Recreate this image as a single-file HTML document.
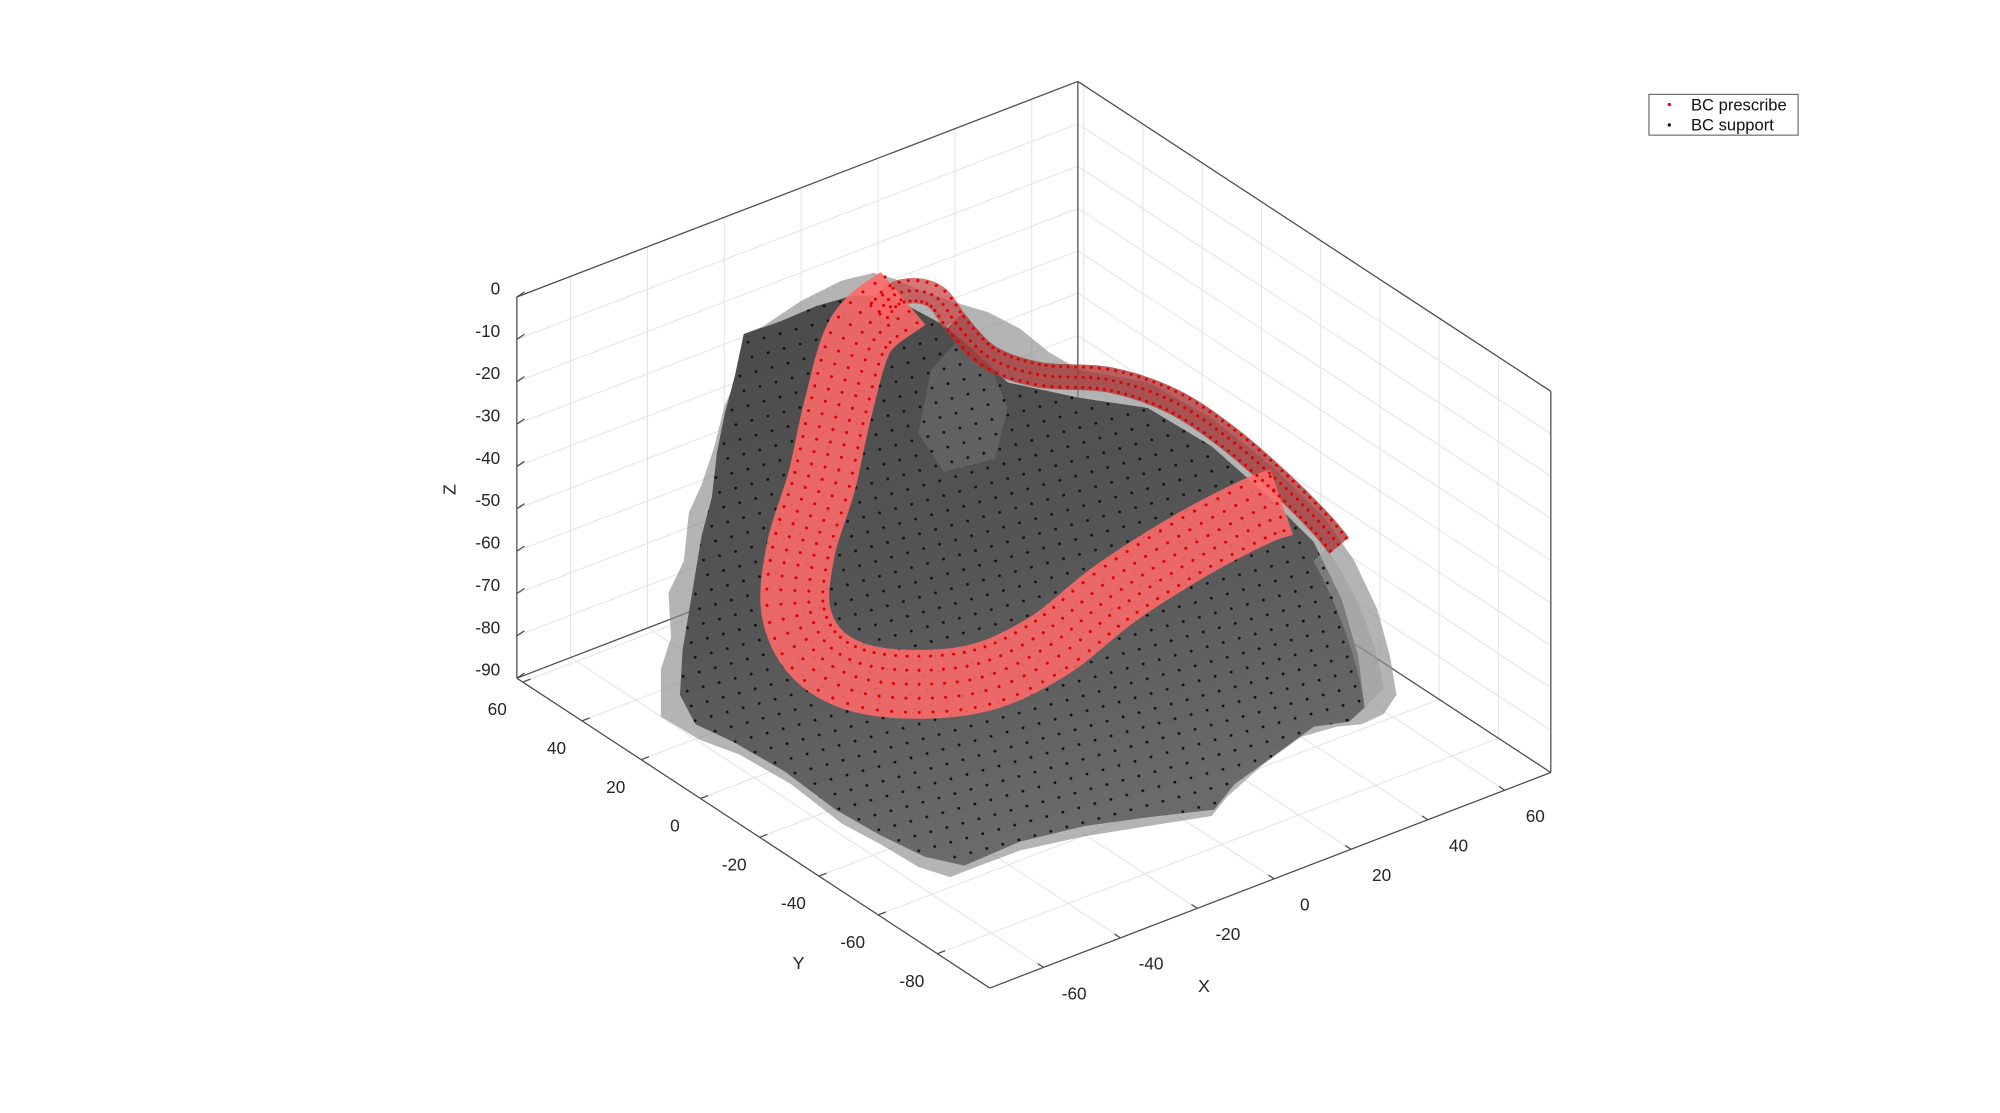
<!DOCTYPE html>
<html><head><meta charset="utf-8">
<style>
html,body{margin:0;padding:0;background:#fff;}
svg{display:block;font-family:"Liberation Sans","DejaVu Sans",sans-serif;}
</style></head>
<body>
<svg id="chart" width="2000" height="1113" viewBox="0 0 1568 873" xmlns="http://www.w3.org/2000/svg">
<defs>
<pattern id="dots" width="13" height="12" patternUnits="userSpaceOnUse" patternTransform="rotate(-15)">
<circle cx="3" cy="3" r="1.1" fill="#111"/>
</pattern>
<linearGradient id="surfGrad" x1="0" y1="0" x2="0.3" y2="1">
<stop offset="0" stop-color="#4a4a4a"/><stop offset="0.55" stop-color="#555"/><stop offset="1" stop-color="#6a6a6a"/>
</linearGradient>
<clipPath id="innerClip"><path id="innerClipPath" d=""/></clipPath>
</defs>
<g id="grid"></g>
<g id="box"></g>
<g id="surface"></g>
<g id="ticks"></g>
<text x="0" y="0" transform="translate(357,384) rotate(-90)" text-anchor="middle" font-size="14" fill="#262626">Z</text>
<text x="626" y="760" text-anchor="middle" font-size="14" fill="#262626">Y</text>
<text x="944" y="778" text-anchor="middle" font-size="14" fill="#262626">X</text>
<g>
<rect x="1293" y="74" width="117" height="32" fill="#fff" stroke="#555" stroke-width="0.8"/>
<circle cx="1309" cy="82" r="1.3" fill="#e00"/>
<text x="1326" y="86.5" font-size="13" fill="#111">BC prescribe</text>
<circle cx="1309" cy="98" r="1.3" fill="#111"/>
<text x="1326" y="102.5" font-size="13" fill="#111">BC support</text>
</g>
</svg>
<script>
const xTicks=[-60,-40,-20,0,20,40,60];
const yTicks=[-80,-60,-40,-20,0,20,40,60];
const zTicks=[-90,-80,-70,-60,-50,-40,-30,-20,-10,0];
const xLim=[-74,72], yLim=[-97.7,62], zLim=[-90,0];
const outerOutline=[[583,262],[598,256],[628,236],[660,220],[685,214],[702,219],[722,228],[745,236],[775,245],[800,258],[822,276],[846,290],[900,300],[950,328],[1000,368],[1040,408],[1062,440],[1080,478],[1090,515],[1095,545],[1085,560],[1068,568],[1048,570],[1020,578],[990,600],[962,625],[950,640],[900,648],[850,656],[800,667],[760,682],[745,688],[720,680],[690,662],[660,646],[620,615],[580,592],[548,580],[518,562],[518,525],[526,500],[524,465],[536,440],[540,402],[550,380],[560,350],[568,318],[580,292]];
const innerOutline=[[583,262],[612,252],[640,240],[668,232],[690,232],[712,240],[740,255],[760,272],[790,300],[846,312],[900,320],[950,350],[995,390],[1030,425],[1052,470],[1065,515],[1070,555],[1058,566],[1030,570],[1000,592],[968,615],[952,635],[900,641],[850,648],[800,660],[756,679],[725,672],[690,655],[655,635],[615,605],[575,582],[545,568],[533,545],[535,510],[540,480],[545,450],[550,420],[558,390],[562,355],[568,325],[576,295]];
const bandFront=[[708,234],[675,262],[657,320],[644,378],[628,430],[624,480],[645,517],[690,535],[762,533],[820,508],[875,465],[935,427],[985,401],[1005,394]];
const bandTop=[[688,246],[700,232],[718,228],[735,234],[748,252]];
const bandBack=[[748,252],[775,280],[815,294],[870,298],[920,315],[965,345],[1005,380],[1035,410],[1050,428]];

const NS='http://www.w3.org/2000/svg';
function P(X,Y,Z){return [776+(X-xLim[0])*3.014-(Y-yLim[0])*2.323, 775-(X-xLim[0])*1.158-(Y-yLim[0])*1.522-(Z-zLim[0])*3.322];}
function mk(tag,attrs,parent){const e=document.createElementNS(NS,tag);for(const k in attrs)e.setAttribute(k,attrs[k]);parent.appendChild(e);return e;}
function line(a,b,col,w,parent,name){const e=mk('line',{x1:a[0],y1:a[1],x2:b[0],y2:b[1],stroke:col,'stroke-width':w},parent);

return e;}
const grid=document.getElementById('grid'),box=document.getElementById('box'),ticks=document.getElementById('ticks'),surf=document.getElementById('surface');
const gc='#e3e3e3';
xTicks.forEach(x=>{line(P(x,yLim[0],zLim[0]),P(x,yLim[1],zLim[0]),gc,0.8,grid,'x-grid-floor');line(P(x,yLim[1],zLim[0]),P(x,yLim[1],zLim[1]),gc,0.8,grid,'x-grid-wall');});
yTicks.forEach(y=>{line(P(xLim[0],y,zLim[0]),P(xLim[1],y,zLim[0]),gc,0.8,grid,'y-grid-floor');line(P(xLim[1],y,zLim[0]),P(xLim[1],y,zLim[1]),gc,0.8,grid,'y-grid-wall');});
zTicks.forEach(z=>{line(P(xLim[0],yLim[1],z),P(xLim[1],yLim[1],z),gc,0.8,grid,'z-grid-left-wall');line(P(xLim[1],yLim[1],z),P(xLim[1],yLim[0],z),gc,0.8,grid,'z-grid-right-wall');});
const bc='#4d4d4d';
const A=P(xLim[0],yLim[1],zLim[1]),B=P(xLim[1],yLim[1],zLim[1]),C=P(xLim[1],yLim[0],zLim[1]);
const A0=P(xLim[0],yLim[1],zLim[0]),B0=P(xLim[1],yLim[1],zLim[0]),C0=P(xLim[1],yLim[0],zLim[0]),F0=P(xLim[0],yLim[0],zLim[0]);
line(A,B,bc,1,box,'box-edge');line(B,C,bc,1,box,'box-edge');line(A,A0,bc,1,box,'z-axis-line');line(C,C0,bc,1,box,'box-edge');line(B,B0,bc,1,box,'box-edge');
line(A0,B0,bc,1,box,'box-edge');line(B0,C0,bc,1,box,'box-edge');line(A0,F0,bc,1,box,'y-axis-line');line(F0,C0,bc,1,box,'x-axis-line');
yTicks.forEach(y=>{const p=P(xLim[0],y,zLim[0]);line(p,[p[0]+6,p[1]-2.3],bc,1,ticks,'y-tick');
const t=mk('text',{x:p[0]-20,y:p[1]+26,'text-anchor':'middle','font-size':13.5,fill:'#262626'},ticks);t.textContent=y;

});
xTicks.forEach(x=>{const p=P(x,yLim[0],zLim[0]);line(p,[p[0]-4.6,p[1]-3],bc,1,ticks,'x-tick');
const t=mk('text',{x:p[0]+24,y:p[1]+25,'text-anchor':'middle','font-size':13.5,fill:'#262626'},ticks);t.textContent=x;

});
zTicks.forEach(z=>{const p=P(xLim[0],yLim[1],z);line(p,[p[0]+6,p[1]-4],bc,1,ticks,'z-tick');
const t=mk('text',{x:p[0]-13,y:p[1]-2,'text-anchor':'end','font-size':13.5,fill:'#262626'},ticks);t.textContent=z;

});
function poly(pts){return 'M'+pts.map(p=>p.join(',')).join('L')+'Z';}
function smooth(pts){let d='M'+pts[0].join(',');for(let i=0;i<pts.length-1;i++){const p0=pts[Math.max(0,i-1)],p1=pts[i],p2=pts[i+1],p3=pts[Math.min(pts.length-1,i+2)];
const c1=[p1[0]+(p2[0]-p0[0])/6,p1[1]+(p2[1]-p0[1])/6],c2=[p2[0]-(p3[0]-p1[0])/6,p2[1]-(p3[1]-p1[1])/6];
d+='C'+c1.join(',')+' '+c2.join(',')+' '+p2.join(',');}return d;}
const outer=mk('path',{d:poly(outerOutline),fill:'#8c8c8c','fill-opacity':0.65},surf);


const inner=mk('path',{d:poly(innerOutline),fill:'url(#surfGrad)'},surf);


const bump=mk('path',{d:'M730,290 L750,268 L772,275 L790,320 L780,360 L740,370 L720,340 Z',fill:'#7a7a7a','fill-opacity':0.4},surf);


const shell2=mk('path',{d:'M1040,430 Q1075,480 1085,540 L1070,555 Q1062,500 1030,440 Z',fill:'#999','fill-opacity':0.5},surf);


document.getElementById('innerClipPath').setAttribute('d',poly(innerOutline));
const dots=mk('rect',{x:500,y:200,width:620,height:500,fill:'url(#dots)','clip-path':'url(#innerClip)'},surf);


function band(pts,col,op,w,name){const e=mk('path',{d:smooth(pts),fill:'none',stroke:col,'stroke-opacity':op,'stroke-width':w,'stroke-linejoin':'round','stroke-linecap':'butt'},surf);

return e;}
const backB=band(bandBack,'#a83838',0.8,20,'prescribe-band-back');
const topB=band(bandTop,'#c84848',0.75,20,'prescribe-band-top');
const frontB=band(bandFront,'#ff6a6a',0.88,54,'prescribe-band-front');
function dotRows(path,offsets,step){const L=path.getTotalLength();for(let s=2;s<L;s+=step){const a=path.getPointAtLength(s),b=path.getPointAtLength(Math.min(L,s+1));let dx=b.x-a.x,dy=b.y-a.y,n=Math.hypot(dx,dy)||1;dx/=n;dy/=n;
offsets.forEach(o=>{const c=mk('circle',{cx:a.x-dy*o,cy:a.y+dx*o,r:1.2,fill:'#e00000'},surf);

});}}
dotRows(frontB,[-22,-11,0,11,22],10);
dotRows(backB,[-8,0,8],6);
dotRows(topB,[-8,0,8],6);
</script>
</body></html>
